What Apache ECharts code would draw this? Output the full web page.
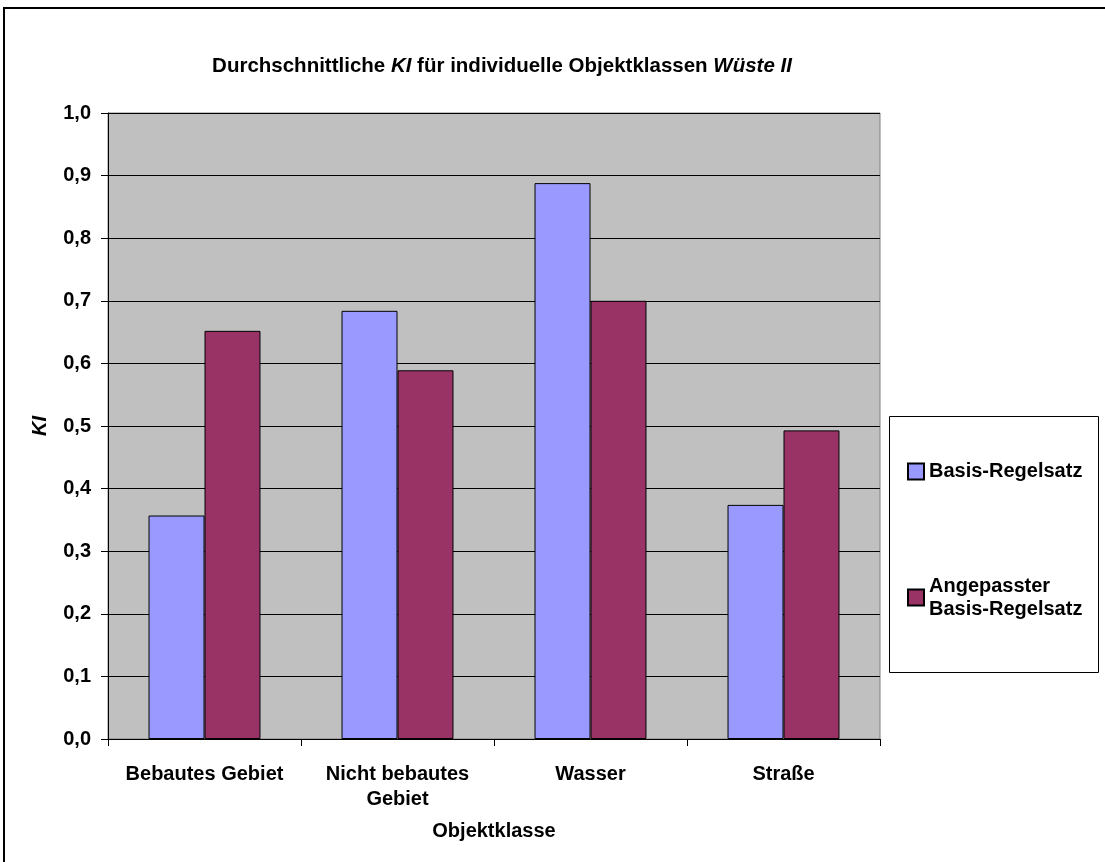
<!DOCTYPE html>
<html><head><meta charset="utf-8">
<script src="https://cdn.jsdelivr.net/npm/echarts@6/dist/echarts.min.js"></script>
<style>html,body{margin:0;padding:0;background:#fff}#c{width:1105px;height:862px}</style>
</head><body><div id="c"></div>
<script>
const categories = ['Bebautes Gebiet', 'Nicht bebautes\nGebiet', 'Wasser', 'Straße'];
const basis = [0.357, 0.684, 0.888, 0.374];
const angepasst = [0.652, 0.589, 0.700, 0.493];
const seriesNames = ['Basis-Regelsatz', 'Angepasster Basis-Regelsatz'];
const yTicks = [0, 0.1, 0.2, 0.3, 0.4, 0.5, 0.6, 0.7, 0.8, 0.9, 1.0];

const FONT = '"Liberation Sans", Arial, sans-serif';
const chart = echarts.init(document.getElementById('c'));
chart.setOption({
  animation: false,
  backgroundColor: '#fff',
  title: {
    text: '{b|Durchschnittliche }{bi|KI}{b| für individuelle Objektklassen }{bi|Wüste II}',
    left: 497, top: 51, textAlign: 'center',
    textStyle: {
      rich: {
        b: {fontFamily: FONT, fontWeight: 'bold', fontSize: 20.5, color: '#000'},
        bi: {fontFamily: FONT, fontWeight: 'bold', fontStyle: 'italic', fontSize: 20.5, color: '#000'}
      }
    }
  },
  grid: {left: 108, right: 225, top: 113, bottom: 123, show: true, backgroundColor: '#C0C0C0', borderColor: '#808080', borderWidth: 1},
  legend: [
    {data: [seriesNames[0]], orient: 'vertical', left: 907, top: 460, padding: 0,
     icon: 'rect', itemWidth: 16, itemHeight: 16, itemGap: 0,
     textStyle: {fontFamily: FONT, fontWeight: 'bold', fontSize: 20, color: '#000', lineHeight: 23}},
    {data: [seriesNames[1]], orient: 'vertical', left: 907, top: 563, padding: 0,
     icon: 'rect', itemWidth: 16, itemHeight: 16, itemGap: 0,
     formatter: () => 'Angepasster\nBasis-Regelsatz',
     textStyle: {fontFamily: FONT, fontWeight: 'bold', fontSize: 20, color: '#000', lineHeight: 23, padding: [23, 0, 0, 0]}}
  ],
  graphic: [
    {type: 'rect', shape: {x: 4, y: 8, width: 1300, height: 1000}, style: {fill: null, stroke: '#000', lineWidth: 2}, silent: true},
    {type: 'rect', shape: {x: 889.5, y: 416.5, width: 209, height: 256}, style: {fill: '#fff', stroke: '#000', lineWidth: 1}, silent: true, z: -1}
  ],
  xAxis: {
    type: 'category', data: categories,
    name: 'Objektklasse', nameLocation: 'middle', nameGap: 82,
    nameTextStyle: {fontFamily: FONT, fontWeight: 'bold', fontSize: 20, color: '#000'},
    axisLine: {lineStyle: {color: '#000', width: 1}},
    axisTick: {show: true, length: 7, lineStyle: {color: '#000'}},
    axisLabel: {fontFamily: FONT, fontWeight: 'bold', fontSize: 20, color: '#000', margin: 23, lineHeight: 25, interval: 0}
  },
  yAxis: {
    type: 'value', min: 0, max: 1, interval: 0.1,
    name: 'KI', nameLocation: 'middle', nameRotate: 90, nameGap: 58,
    nameTextStyle: {fontFamily: FONT, fontWeight: 'bold', fontStyle: 'italic', fontSize: 20, color: '#000'},
    axisLine: {show: true, lineStyle: {color: '#000', width: 1}},
    axisTick: {show: true, length: 7, lineStyle: {color: '#000'}},
    axisLabel: {fontFamily: FONT, fontWeight: 'bold', fontSize: 20, color: '#000', margin: 17,
      formatter: v => v.toFixed(1).replace('.', ',')},
    splitLine: {show: true, lineStyle: {color: '#000', width: 1}}
  },
  series: [
    {name: seriesNames[0], type: 'bar', data: basis, barGap: '0%', barCategoryGap: '42%',
     itemStyle: {color: '#9999FF', borderColor: '#000', borderWidth: 1}},
    {name: seriesNames[1], type: 'bar', data: angepasst,
     itemStyle: {color: '#993366', borderColor: '#000', borderWidth: 1}}
  ]
});
</script></body></html>
